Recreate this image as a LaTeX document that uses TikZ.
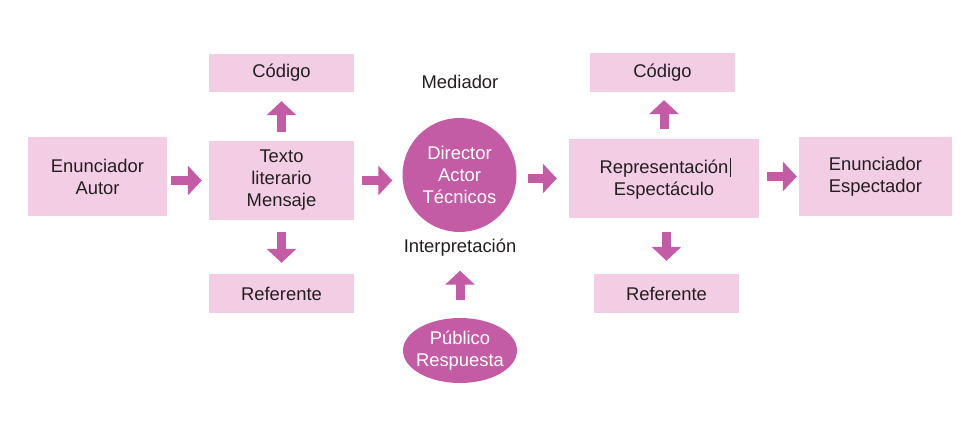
\documentclass[tikz,border=0pt]{standalone}
\usepackage{fontspec}
\setmainfont{Liberation Sans}
\usetikzlibrary{arrows.meta,shapes.geometric}
\definecolor{lightpink}{HTML}{F2CDE4}
\definecolor{darkpink}{HTML}{C45BA5}
\definecolor{txtcol}{HTML}{231F20}
\tikzset{
  x=1pt,y=-1pt,
  txtfont/.style={font=\fontsize{18.4}{22}\selectfont},
  pbox/.style={rectangle,fill=lightpink,draw=none,inner sep=0pt,align=center,txtfont,text=txtcol},
  pcirc/.style={circle,fill=darkpink,draw=none,inner sep=0pt,align=center,text=white,txtfont},
  pell/.style={ellipse,fill=darkpink,draw=none,inner xsep=-6pt,inner ysep=-2pt,align=center,text=white,txtfont},
  plabel/.style={inner sep=0pt,align=center,txtfont,text=txtcol,text height=13pt,text depth=4pt},
  fat/.style={draw=darkpink,line width=9pt,-{Triangle[width=29pt,length=14pt]}}
}
\begin{document}
\begin{tikzpicture}
\useasboundingbox (0,0) rectangle (976,431);
\node[pbox,minimum width=139pt,minimum height=79pt] (aut) at (97.5,176.5) {Enunciador\\Autor};
\node[pbox,minimum width=145pt,minimum height=38pt] (cod1) at (281.5,73) {Código};
\node[pbox,minimum width=145pt,minimum height=79pt] (txt) at (281.5,180.5) {Texto\\literario\\Mensaje};
\node[pbox,minimum width=145pt,minimum height=39pt] (ref1) at (281.5,293.5) {Referente};
\node[pcirc,minimum size=114pt] (circ) at (459.5,175) {Director\\Actor\\Técnicos};
\node[plabel] (med) at (460,84) {Mediador};
\node[plabel] (interp) at (460,248) {Interpretación};
\node[pell,minimum width=114pt,minimum height=65pt] (pub) at (460,350.5) {Público\\Respuesta};
\node[pbox,minimum width=145pt,minimum height=39pt] (cod2) at (662.5,72.5) {Código};
\node[pbox,minimum width=190pt,minimum height=79pt] (rep) at (664,178.5) {Representación\rlap{\kern1.5pt\rule[-3pt]{0.7pt}{19pt}}\\Espectáculo};
\node[pbox,minimum width=145pt,minimum height=39pt] (ref2) at (666.5,293.5) {Referente};
\node[pbox,minimum width=153pt,minimum height=79pt] (esp) at (875.5,176.5) {Enunciador\\Espectador};

\draw[fat,shorten <=4pt,shorten >=7pt] (aut.east |- txt.west) -- (txt.west);
\draw[fat,shorten <=9pt,shorten >=9pt] (txt.north) -- (txt.north |- cod1.south);
\draw[fat,shorten <=12pt,shorten >=11pt] (txt.south) -- (txt.south |- ref1.north);
\draw[fat,shorten <=8pt,shorten >=10pt] (txt.east) -- (txt.east -| circ.west);
\draw[fat,shorten <=11pt,shorten >=12pt] (rep.west -| circ.east) -- (rep.west);
\draw[fat,shorten <=18pt,shorten >=14pt] (pub.north) -- (interp.south);
\draw[fat,shorten <=10pt,shorten >=8pt] (rep.north) -- (rep.north |- cod2.south);
\draw[fat,shorten <=14pt,shorten >=13pt] (rep.south -| ref2.north) -- (ref2.north);
\draw[fat,shorten <=8pt,shorten >=2pt] (rep.east |- esp.west) -- (esp.west);
\end{tikzpicture}
\end{document}
